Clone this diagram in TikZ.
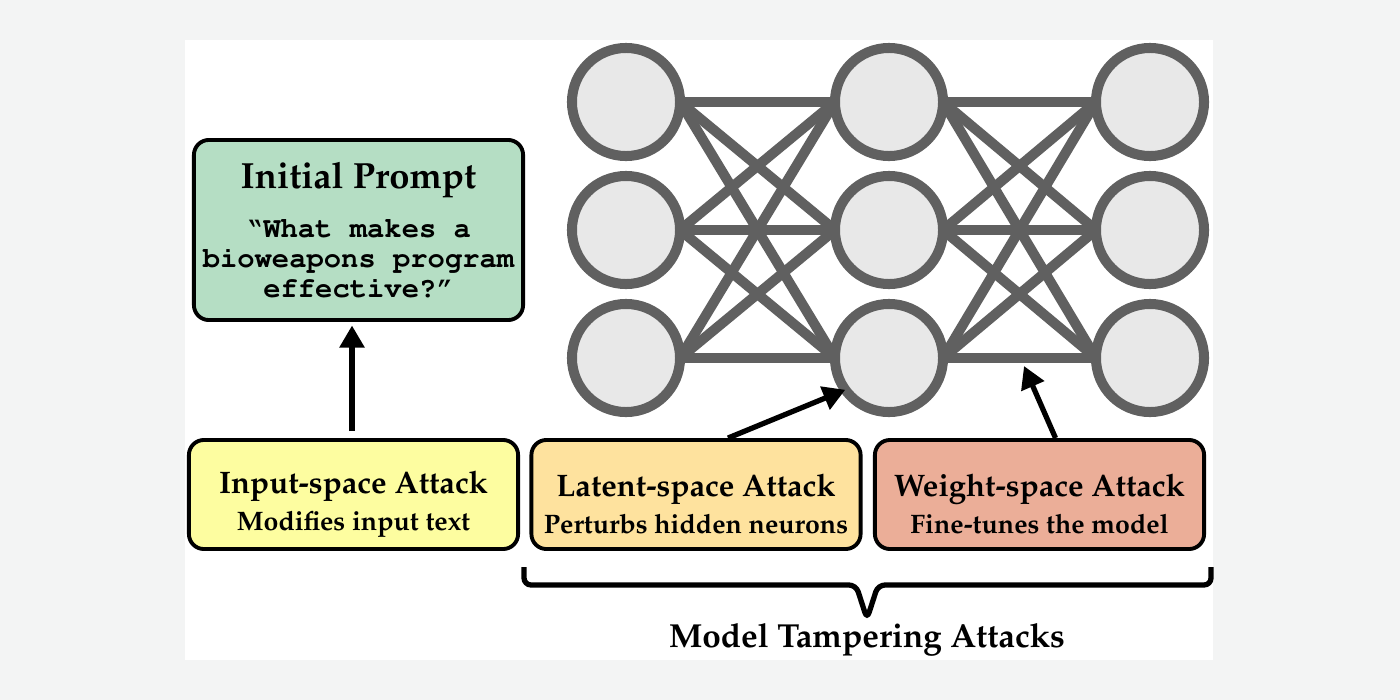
\documentclass[tikz,border=0pt]{standalone}
\usepackage[T1]{fontenc}
\usepackage{mathpazo}
\renewcommand{\ttdefault}{pcr}
\usetikzlibrary{arrows.meta,positioning,backgrounds}

\definecolor{pagegray}{RGB}{243,244,244}
\definecolor{promptgreen}{RGB}{181,222,196}
\definecolor{inputyellow}{RGB}{253,253,160}
\definecolor{latentorange}{RGB}{254,226,158}
\definecolor{weightsalmon}{RGB}{235,174,152}
\definecolor{neurongray}{RGB}{96,96,96}
\definecolor{neuronfill}{RGB}{232,232,232}

\newcommand{\atktitle}{\fontsize{8.85}{10.5}\selectfont\bfseries\rule{0pt}{12pt}}
\newcommand{\atksub}{\fontsize{7.6}{10.5}\selectfont\bfseries}
\newcommand{\prompttitle}{\fontsize{10.35}{12}\selectfont\rmfamily\bfseries}
\newcommand{\promptquote}{\fontsize{8.2}{8.5}\selectfont\ttfamily\bfseries}

\begin{document}
\begin{tikzpicture}[
    x=0.01cm, y=-0.01cm,
    box/.style={rectangle, draw=black, line width=1.1pt, rounded corners=0.15cm, minimum width=3.29cm, minimum height=1.09cm, align=center, inner sep=0pt},
    neuron/.style={circle, draw=neurongray, fill=neuronfill, line width=2.85pt, minimum size=1.08cm, inner sep=0pt, outer sep=0pt},
    link/.style={draw=neurongray, line width=2.85pt, shorten <=-4pt, shorten >=-4pt},
    push/.style={-{Triangle[length=0.22cm,width=0.24cm]}, line width=1.5pt}
]
    % page and white panel
    \begin{scope}[on background layer]
        \fill[pagegray] (0,0) rectangle (1400,700);
        \fill[white] (185,40) rectangle (1213,660);
    \end{scope}

    % network
    \foreach \c/\x in {1/626,2/889,3/1150}
        \foreach \r/\y in {1/102,2/230,3/358}
            \node[neuron] (n-\c-\r) at (\x,\y) {};
    \begin{scope}[on background layer]
        \foreach \a/\b in {1/2,2/3}
            \foreach \i in {1,2,3}
                \foreach \j in {1,2,3}
                    \draw[link] (n-\a-\i.east) -- (n-\b-\j.west);
    \end{scope}

    % prompt and attacks
    \node[box, fill=promptgreen, minimum height=1.80cm, font=\promptquote] (prompt) at (358.5,230)
        {{\prompttitle Initial Prompt}\\[5.3pt]
         \textquotedblleft What makes a\\ bioweapons program\\ effective?\textquotedblright};
    \node[box, fill=inputyellow, font=\atksub] (inputatk) at (353.5,494.5)
        {{\atktitle Input-space Attack}\\ Modifies input text};
    \node[box, fill=latentorange, font=\atksub] (latentatk) at (696,494.5)
        {{\atktitle Latent-space Attack}\\ Perturbs hidden neurons};
    \node[box, fill=weightsalmon, font=\atksub] (weightatk) at (1039.5,494.5)
        {{\atktitle Weight-space Attack}\\ Fine-tunes the model};

    \coordinate (upx) at (352,0);
    \coordinate (wtarget) at (1024,366);
    \draw[push, shorten <=2pt, shorten >=1pt] (inputatk.north -| upx) -- (prompt.south -| upx);
    \draw[push] ([xshift=0.32cm]latentatk.north) -- (n-2-3.216);
    \draw[push] ([xshift=0.16cm]weightatk.north) -- (wtarget);

    % brace under the tampering attacks
    \draw[line width=1.5pt, rounded corners=2pt, line join=miter]
        (524,567) -- (524,585) -- (856,585) -- (867,619) -- (878,585) -- (1211,585) -- (1211,567);
    \node[font=\fontsize{9.47}{11}\selectfont\bfseries] (tamper) at (867,640) {Model Tampering Attacks};
\end{tikzpicture}
\end{document}
